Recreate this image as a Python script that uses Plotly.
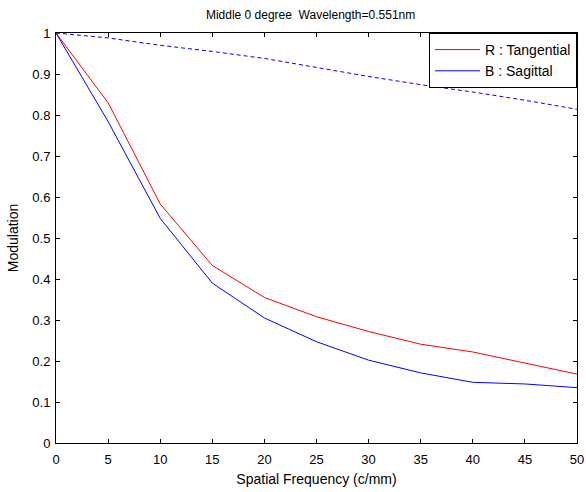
import plotly.graph_objects as go

# Spatial frequency samples (c/mm)
freq = [0, 5, 10, 15, 20, 25, 30, 35, 40, 45, 50]

# MTF curves
tangential = [1.0, 0.830, 0.583, 0.433, 0.355, 0.308, 0.272, 0.241, 0.222, 0.195, 0.168]
sagittal = [1.0, 0.784, 0.548, 0.390, 0.305, 0.247, 0.202, 0.171, 0.148, 0.144, 0.135]
diffraction = [1.0, 0.988, 0.970, 0.955, 0.938, 0.916, 0.894, 0.874, 0.856, 0.836, 0.814]

x_ticks = [0, 5, 10, 15, 20, 25, 30, 35, 40, 45, 50]
y_ticks = [0, 0.1, 0.2, 0.3, 0.4, 0.5, 0.6, 0.7, 0.8, 0.9, 1]
y_labels = ["0", "0.1", "0.2", "0.3", "0.4", "0.5", "0.6", "0.7", "0.8", "0.9", "1"]

font = "Liberation Sans, Arial, sans-serif"

fig = go.Figure()
fig.add_trace(go.Scatter(x=freq, y=tangential, mode="lines", name="R : Tangential",
                         line=dict(color="#ff0000", width=1)))
fig.add_trace(go.Scatter(x=freq, y=sagittal, mode="lines", name="B : Sagittal",
                         line=dict(color="#0000ff", width=1)))
fig.add_trace(go.Scatter(x=freq, y=diffraction, mode="lines", name="Diffraction limit",
                         showlegend=False,
                         line=dict(color="#0000ff", width=1, dash="4px,3px")))

axis_common = dict(showline=True, linecolor="black", linewidth=1, mirror="ticks",
                   ticks="inside", ticklen=4, tickcolor="black", showgrid=False,
                   zeroline=False, automargin=False,
                   tickfont=dict(family=font, size=13, color="black"))

fig.update_layout(
    width=586, height=492,
    margin=dict(l=56, r=9, t=33, b=49),
    paper_bgcolor="white", plot_bgcolor="white",
    font=dict(family=font, size=12, color="black"),
    title=dict(text="Middle 0 degree  Wavelength=0.551nm", x=0.53, xanchor="center",
               y=1 - 15 / 492, yanchor="middle", font=dict(size=12)),
    xaxis=dict(range=[0, 50], tickvals=x_ticks, ticklabelstandoff=4,
               title=dict(text="Spatial Frequency (c/mm)", standoff=8), **axis_common),
    yaxis=dict(range=[0, 1], tickvals=y_ticks, ticktext=y_labels, ticklabelstandoff=2,
               title=dict(text="Modulation", standoff=10), **axis_common),
    legend=dict(x=1, y=1, xanchor="right", yanchor="top", bgcolor="white",
                bordercolor="black", borderwidth=1, font=dict(size=14),
                tracegroupgap=0, itemwidth=45),
    showlegend=True,
)

fig.write_html("out.html")
